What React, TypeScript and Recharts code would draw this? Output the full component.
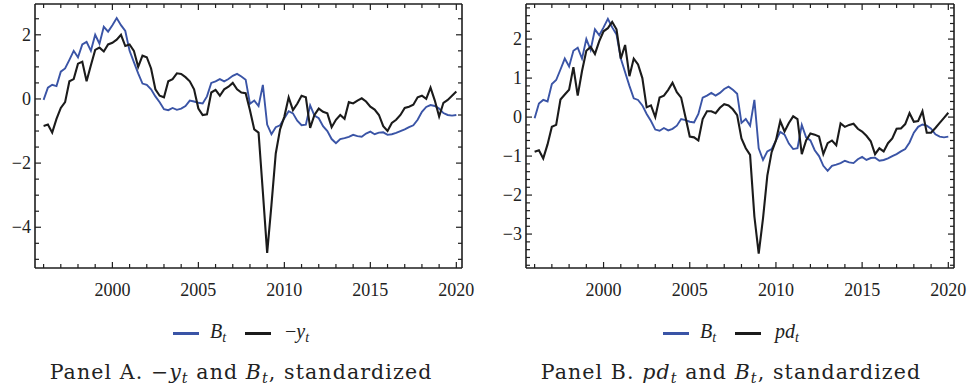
import React from 'react';
import { LineChart, Line, XAxis, YAxis, Legend } from 'recharts';

// quarterly observations, 1996Q1 .. 2020Q1
const startYear = 1996;

const bT = [
  -0.03, 0.35, 0.44, 0.40,
  0.85, 0.95, 1.22, 1.50,
  1.30, 1.70, 1.78, 1.50,
  2.00, 1.72, 2.25, 2.10,
  2.30, 2.52, 2.30, 2.12,
  1.50, 1.15, 0.80, 0.48,
  0.44, 0.30, 0.08, -0.10,
  -0.32, -0.35, -0.28, -0.34,
  -0.30, -0.22, -0.05, -0.08,
  -0.12, -0.14, 0.08, 0.50,
  0.55, 0.62, 0.55, 0.62,
  0.72, 0.78, 0.70, 0.60,
  -0.15, -0.05, -0.22, 0.44,
  -0.80, -1.10, -0.88, -0.82,
  -0.60, -0.38, -0.45, -0.68,
  -0.82, -0.80, -0.20, -0.52,
  -0.60, -0.85, -1.00, -1.25,
  -1.38, -1.25, -1.22, -1.18,
  -1.12, -1.16, -1.18, -1.08,
  -1.02, -1.10, -1.05, -1.04,
  -1.12, -1.10, -1.06, -1.00,
  -0.95, -0.88, -0.82, -0.65,
  -0.40, -0.25, -0.19, -0.22,
  -0.30, -0.44, -0.50, -0.52,
  -0.50,
];

const negY = [
  -0.84, -0.80, -1.05, -0.62,
  -0.28, -0.10, 0.55, 0.62,
  1.10, 1.16, 0.55, 1.05,
  1.53, 1.60, 1.48, 1.70,
  1.75, 1.85, 2.00, 1.65,
  1.70, 1.50, 1.00, 1.35,
  1.30, 0.95, 0.30, 0.10,
  0.05, 0.55, 0.62, 0.80,
  0.78, 0.68, 0.55, 0.30,
  -0.30, -0.50, -0.48, 0.20,
  0.28, 0.10, 0.30, 0.38,
  0.50, 0.30, 0.20, 0.18,
  -0.35, -0.95, -1.05, -2.90,
  -4.80, -3.30, -1.70, -0.95,
  -0.55, 0.05, -0.35, -0.15,
  0.10, 0.05, -0.90, -0.50,
  -0.30, -0.40, -0.45, -0.88,
  -0.65, -0.50, -0.62, -0.10,
  -0.14, -0.05, 0.02, -0.08,
  -0.24, -0.33, -0.50, -0.85,
  -1.00, -0.75, -0.65, -0.50,
  -0.28, -0.24, -0.18, 0.05,
  0.10, 0.00, 0.35, -0.05,
  -0.55, -0.12, -0.03, 0.10,
  0.23,
];

const pd = [
  -0.89, -0.85, -1.06, -0.70,
  -0.25, -0.20, 0.45, 0.58,
  0.70, 1.28, 0.55, 1.18,
  1.70, 1.80, 1.62, 1.95,
  2.20, 2.28, 2.44, 2.25,
  1.50, 1.85, 1.05, 1.50,
  1.35, 1.00, 0.25, 0.30,
  0.00, 0.50, 0.55, 0.70,
  0.88, 0.64, 0.50, 0.00,
  -0.50, -0.52, -0.60, -0.05,
  0.15, 0.15, 0.10, 0.24,
  0.33, 0.30, 0.20, 0.05,
  -0.55, -0.80, -0.97, -2.55,
  -3.50, -2.60, -1.50, -0.90,
  -0.60, -0.10, -0.37, -0.15,
  0.02, -0.05, -0.95, -0.60,
  -0.42, -0.45, -0.50, -0.95,
  -0.67, -0.60, -0.72, -0.16,
  -0.25, -0.20, -0.17, -0.30,
  -0.37, -0.48, -0.62, -0.95,
  -0.80, -0.88, -0.67, -0.55,
  -0.30, -0.29, -0.18, 0.10,
  -0.12, -0.10, 0.15, -0.40,
  -0.40, -0.28, -0.15, -0.02,
  0.11,
];

const yearTicks = [1996, 1997, 1998, 1999, 2000, 2001, 2002, 2003, 2004, 2005, 2006, 2007, 2008,
  2009, 2010, 2011, 2012, 2013, 2014, 2015, 2016, 2017, 2018, 2019, 2020];
const yearLabels = [2000, 2005, 2010, 2015, 2020];

const yTicksA = [-5, -4.5, -4, -3.5, -3, -2.5, -2, -1.5, -1, -0.5, 0, 0.5, 1, 1.5, 2, 2.5];
const yLabelsA = [-4, -2, 0, 2];

const yTicksB = [-3.8, -3.6, -3.4, -3.2, -3, -2.8, -2.6, -2.4, -2.2, -2, -1.8, -1.6, -1.4, -1.2, -1,
  -0.8, -0.6, -0.4, -0.2, 0, 0.2, 0.4, 0.6, 0.8, 1, 1.2, 1.4, 1.6, 1.8, 2, 2.2, 2.4, 2.6, 2.8];
const yLabelsB = [-3, -2, -1, 0, 1, 2];

const data = bT.map((b, i) => ({ t: startYear + i / 4, b, negY: negY[i], pd: pd[i] }));

const BLUE = '#3a54a6';
const BLACK = '#1b1b1b';
const FRAME = '#1e1e1e';
const FONT = '"Liberation Serif", "Times New Roman", serif';
const CAPTION_FONT = '"DejaVu Serif", serif';

const isLabel = (list: number[], v: number) => list.some(l => Math.abs(l - v) < 1e-6);
const fmt = (v: number) => (v < 0 ? '\u2212' + Math.abs(v) : String(v));

const labelStyle = { fontFamily: FONT, fontSize: 18, fill: '#222' };

const makeXTick = (side: 'bottom' | 'top') => (props: any) => {
  const { x, y, payload } = props;
  const major = isLabel(yearLabels, payload.value);
  const len = major ? 6 : 4;
  const dir = side === 'bottom' ? -1 : 1;
  return (
    <g>
      <line x1={x} x2={x} y1={y} y2={y + dir * len} stroke={FRAME} strokeWidth={1.2} />
      {side === 'bottom' && major && (
        <text x={x} y={y + 28} textAnchor="middle" style={labelStyle}>
          {payload.value}
        </text>
      )}
    </g>
  );
};

const makeYTick = (side: 'left' | 'right', labels: number[]) => (props: any) => {
  const { x, y, payload } = props;
  const major = isLabel(labels, payload.value);
  const len = major ? 6 : 4;
  const dir = side === 'left' ? 1 : -1;
  return (
    <g>
      <line x1={x} x2={x + dir * len} y1={y} y2={y} stroke={FRAME} strokeWidth={1.2} />
      {side === 'left' && major && (
        <text x={x - 4} y={y} dy="0.34em" textAnchor="end" style={labelStyle}>
          {fmt(payload.value)}
        </text>
      )}
    </g>
  );
};

const Sub = ({ base, sub }: { base: string; sub: string }) => (
  <span style={{ fontStyle: 'italic' }}>
    {base}
    <span style={{ fontSize: '0.7em', verticalAlign: '-0.3em' }}>{sub}</span>
  </span>
);

const LegendBox = ({ blackLabel }: { blackLabel: React.ReactNode }) => (
  <div style={{ display: 'flex', justifyContent: 'center', alignItems: 'center', fontFamily: FONT, fontSize: 20, color: '#222' }}>
    <span style={{ display: 'inline-block', width: 26, height: 3, background: BLUE, marginRight: 11 }} />
    <Sub base="B" sub="t" />
    <span style={{ display: 'inline-block', width: 26, height: 3, background: BLACK, marginLeft: 19, marginRight: 14 }} />
    {blackLabel}
  </div>
);

type PanelProps = {
  left: number;
  marginLeft: number;
  marginRight: number;
  yDomain: [number, number];
  yTicks: number[];
  yLabels: number[];
  blackKey: string;
  blackLabel: React.ReactNode;
  caption: React.ReactNode;
};

const Panel = ({ left, marginLeft, marginRight, yDomain, yTicks, yLabels, blackKey, blackLabel, caption }: PanelProps) => (
  <div style={{ position: 'absolute', left, top: 0, width: 482, height: 389 }}>
    <LineChart width={482} height={389} data={data} margin={{ top: 3, right: marginRight, bottom: 91, left: marginLeft }}>
      <XAxis xAxisId="b" dataKey="t" type="number" domain={[1995.5, 2020.33]} allowDataOverflow ticks={yearTicks}
        interval={0} height={30} tickSize={0} tickMargin={0} tickLine={false}
        axisLine={{ stroke: FRAME, strokeWidth: 1.6 }} tick={makeXTick('bottom')} />
      <XAxis xAxisId="top" orientation="top" dataKey="t" type="number" domain={[1995.5, 2020.33]} allowDataOverflow
        ticks={yearTicks} interval={0} height={1} tickSize={0} tickMargin={0} tickLine={false}
        axisLine={{ stroke: FRAME, strokeWidth: 1.6 }} tick={makeXTick('top')} />
      <YAxis yAxisId="l" type="number" domain={yDomain} allowDataOverflow ticks={yTicks} interval={0} width={30}
        tickSize={0} tickMargin={0} tickLine={false} axisLine={{ stroke: FRAME, strokeWidth: 1.6 }}
        tick={makeYTick('left', yLabels)} />
      <YAxis yAxisId="r" orientation="right" type="number" domain={yDomain} allowDataOverflow ticks={yTicks} interval={0}
        width={1} tickSize={0} tickMargin={0} tickLine={false} axisLine={{ stroke: FRAME, strokeWidth: 1.6 }}
        tick={makeYTick('right', yLabels)} />
      <Legend verticalAlign="middle" align="center" layout="horizontal"
        wrapperStyle={{ top: 320, left: 0, width: 482 }}
        content={() => <LegendBox blackLabel={blackLabel} />} />
      {/* invisible series so the top and right frame axes are drawn */}
      <Line xAxisId="top" yAxisId="r" dataKey="b" stroke="none" dot={false} activeDot={false} isAnimationActive={false} />
      <Line xAxisId="b" yAxisId="l" dataKey="b" stroke={BLUE} strokeWidth={1.9} dot={false} isAnimationActive={false} />
      <Line xAxisId="b" yAxisId="l" dataKey={blackKey} stroke={BLACK} strokeWidth={2.1} dot={false} isAnimationActive={false} />
    </LineChart>
    <div style={{ position: 'absolute', left: 0, top: 361, width: 482, textAlign: 'center', fontFamily: CAPTION_FONT, fontSize: 20.5, letterSpacing: 1.1, lineHeight: '22px', color: '#222' }}>
      {caption}
    </div>
  </div>
);

export default function App() {
  return (
    <div style={{ position: 'absolute', left: 0, top: 0, width: 972, height: 389, background: '#fff' }}>
      <Panel left={0} marginLeft={5} marginRight={19} yDomain={[-5.27, 2.96]} yTicks={yTicksA} yLabels={yLabelsA}
        blackKey="negY" blackLabel={<span>{'\u2212'}<Sub base="y" sub="t" /></span>}
        caption={<span>Panel A. {'\u2212'}<Sub base="y" sub="t" /> and <Sub base="B" sub="t" />, standardized</span>} />
      <Panel left={490} marginLeft={6} marginRight={17} yDomain={[-3.87, 2.9]} yTicks={yTicksB} yLabels={yLabelsB}
        blackKey="pd" blackLabel={<Sub base="pd" sub="t" />}
        caption={<span>Panel B. <Sub base="pd" sub="t" /> and <Sub base="B" sub="t" />, standardized</span>} />
    </div>
  );
}
